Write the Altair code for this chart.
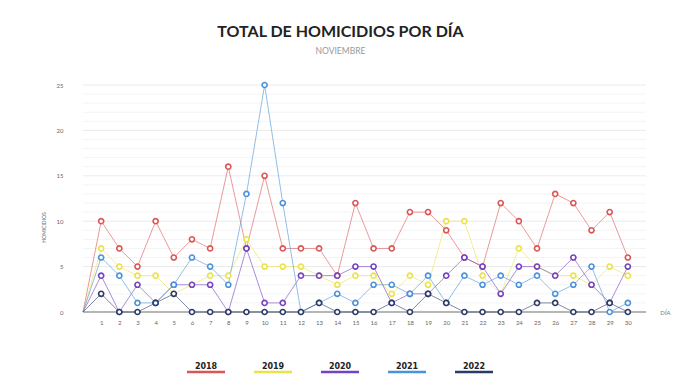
import altair as alt
import pandas as pd

# ---- data ----
DAYS = list(range(0, 31))
YEARS = ["2018", "2019", "2020", "2021", "2022"]
COLORS = ["#dc5656", "#ebe24a", "#7443c2", "#4a92db", "#2c3b66"]

V2018 = [0, 10, 7, 5, 10, 6, 8, 7, 16, 7, 15, 7, 7, 7, 4, 12, 7, 7, 11, 11, 9, 6, 5, 12, 10, 7, 13, 12, 9, 11, 6]
V2019 = [0, 7, 5, 4, 4, 2, 3, 4, 4, 8, 5, 5, 5, 4, 3, 4, 4, 2, 4, 3, 10, 10, 4, 2, 7, 5, 4, 4, 3, 5, 4]
V2020 = [0, 4, 0, 3, 1, 3, 3, 3, 0, 7, 1, 1, 4, 4, 4, 5, 5, 1, 2, 2, 4, 6, 5, 2, 5, 5, 4, 6, 3, 1, 5]
V2021 = [0, 6, 4, 1, 1, 3, 6, 5, 3, 13, 25, 12, 0, 1, 2, 1, 3, 3, 2, 4, 1, 4, 3, 4, 3, 4, 2, 3, 5, 0, 1]
V2022 = [0, 2, 0, 0, 1, 2, 0, 0, 0, 0, 0, 0, 0, 1, 0, 0, 0, 1, 0, 2, 1, 0, 0, 0, 0, 1, 1, 0, 0, 1, 0]

Y_TICKS = [0, 5, 10, 15, 20, 25]
X_TICKS = list(range(1, 31))
GRID = list(range(1, 26))

SERIES = [V2018, V2019, V2020, V2021, V2022]

rows = []
for k, (yr, vals) in enumerate(zip(YEARS, SERIES)):
    for d, v in zip(DAYS, vals):
        rows.append({"dia": d, "anio": yr, "valor": v, "k": k})
df = pd.DataFrame(rows)
grid_df = pd.DataFrame({"g": GRID})
leg_df = pd.DataFrame({"anio": YEARS})

FONT = "Lato"
color_scale = alt.Scale(domain=YEARS, range=COLORS)

x_axis = alt.Axis(
    values=X_TICKS, title="DÍA", grid=False, domain=False, ticks=False,
    labelOverlap=False, labelFlush=False, labelBound=False,
    labelFont=FONT, labelFontSize=6, labelColor="#666", labelPadding=7,
    titleFont=FONT, titleFontSize=6, titleFontWeight="normal", titleColor="#777",
    titleX=582, titleY=0, titleAlign="center", titleBaseline="middle",
)
y_axis = alt.Axis(
    values=Y_TICKS, title="HOMICIDIOS", grid=False, domain=False, ticks=False,
    labelOverlap=False,
    labelFont=FONT, labelFontSize=6, labelColor="#666", labelPadding=20,
    titleFont=FONT, titleFontSize=5, titleFontWeight="normal", titleColor="#666",
    titleX=-40, titleY=142, titleAlign="center", titleBaseline="middle",
)
x_scale = alt.Scale(domain=[0, 31], nice=False, zero=False)
y_scale = alt.Scale(domain=[0, 25], nice=False)

grid = alt.Chart(grid_df).mark_rule(strokeWidth=1).encode(
    y=alt.Y("g:Q", scale=y_scale, axis=y_axis),
    color=alt.condition("datum.g % 5 == 0", alt.value("#ebebeb"), alt.value("#f4f4f4")),
)
zero = alt.Chart(grid_df).mark_rule(strokeWidth=1, color="#b5b5b5").encode(
    y=alt.datum(0)
)

lines = alt.Chart(df).mark_line(strokeWidth=1, opacity=0.6).encode(
    x=alt.X("dia:Q", scale=x_scale, axis=x_axis),
    y=alt.Y("valor:Q", scale=y_scale, axis=y_axis),
    color=alt.Color("anio:N", scale=color_scale, legend=None),
    order="dia:Q",
)
points = alt.Chart(df).transform_filter("datum.dia >= 1").mark_point(
    shape="circle", size=26, strokeWidth=1.6, opacity=1
).encode(
    x=alt.X("dia:Q", scale=x_scale, axis=x_axis),
    y=alt.Y("valor:Q", scale=y_scale, axis=y_axis),
    stroke=alt.Stroke("anio:N", scale=color_scale, legend=None),
    fill=alt.value("white"),
)

base = alt.layer(grid, zero, lines, points)

leg_x = alt.X("anio:N", scale=alt.Scale(type="point", domain=YEARS, range=[123, 391], padding=0), axis=None)
leg_text = alt.Chart(leg_df).mark_text(
    font="DejaVu Sans", fontWeight="bold", fontSize=8, color="#222", baseline="alphabetic"
).encode(x=leg_x, y=alt.value(284), text="anio:N")
leg_rule = alt.Chart(leg_df).mark_rule(strokeWidth=2.5, xOffset=-19, x2Offset=19).encode(
    x=leg_x, x2=alt.X2("anio:N"), y=alt.value(287),
    color=alt.Color("anio:N", scale=color_scale, legend=None),
)

chart = alt.layer(base, leg_text, leg_rule).resolve_scale(x="independent").properties(
    width=563,
    height=227,
    autosize=alt.AutoSizeParams(type="none"),
    padding={"left": 75, "top": 77, "right": 42, "bottom": 65},
    title=alt.TitleParams(
        text="TOTAL DE HOMICIDIOS POR DÍA", subtitle="NOVIEMBRE",
        anchor="middle", dx=-24, offset=24,
        font=FONT, fontSize=16, fontWeight="bold", color="#222",
        subtitleFont=FONT, subtitleFontSize=8.5, subtitleColor="#999", subtitlePadding=7,
    ),
).configure_view(stroke=None).configure_axis(labelOverlap=False)

chart.save("out.html", embed_options={"renderer": "svg", "actions": False})
